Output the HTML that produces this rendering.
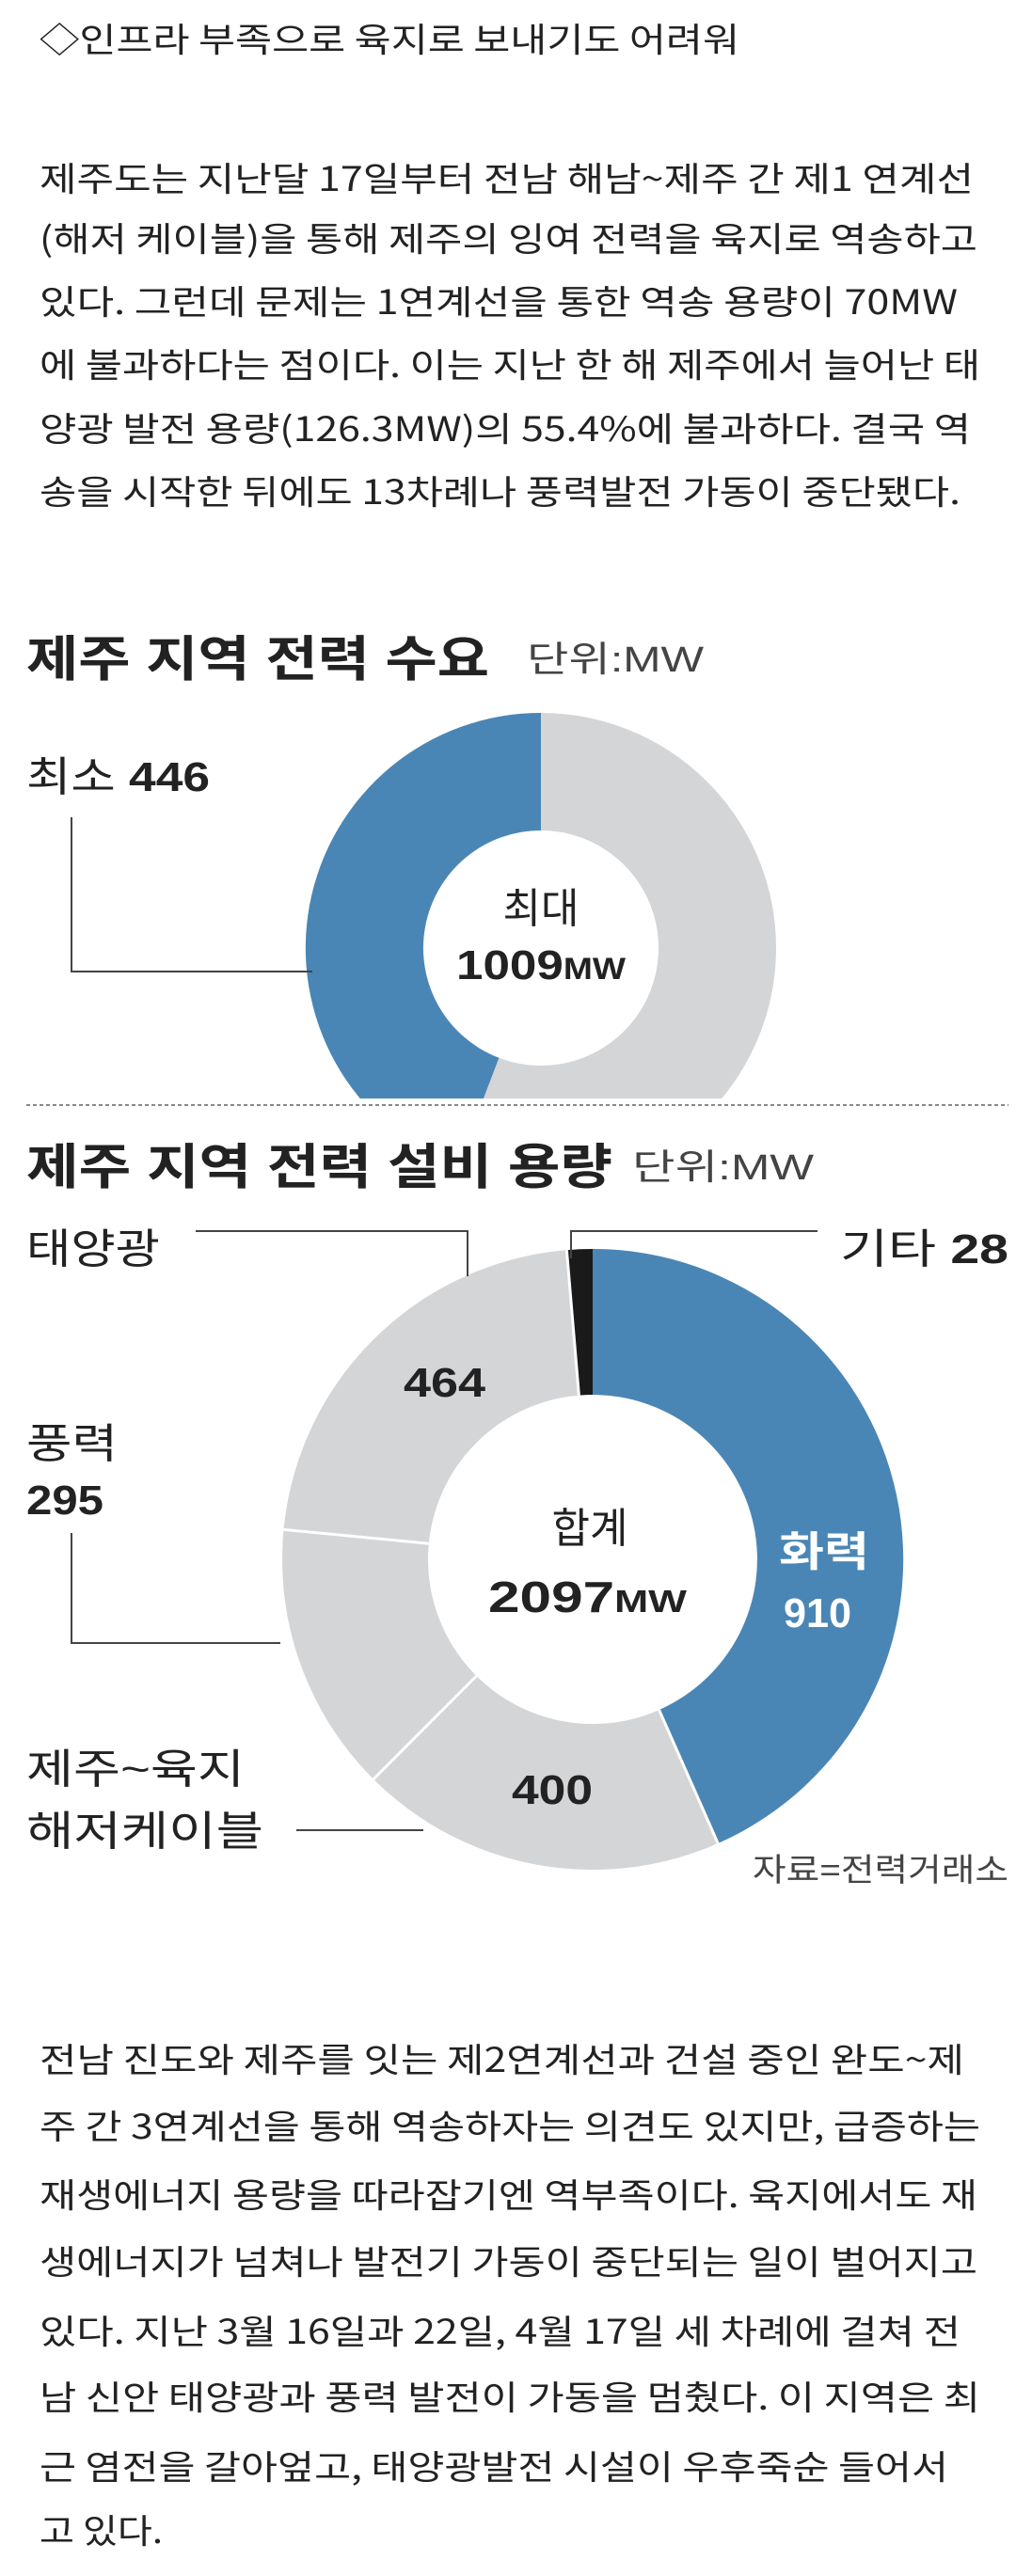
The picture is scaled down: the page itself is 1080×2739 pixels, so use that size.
<!DOCTYPE html>
<html><head><meta charset="utf-8"><style>
html,body{margin:0;padding:0;background:#fff;}
body{width:1080px;height:2739px;position:relative;overflow:hidden;font-family:"Liberation Sans","Noto Sans CJK KR",sans-serif;color:#222;}
svg{position:absolute;left:0;top:0;}
</style></head><body>
<svg width="1080" height="2739" viewBox="0 0 1080 2739" font-family="Liberation Sans, Noto Sans CJK KR, sans-serif">
<g font-size="36" fill="#222" font-family="Noto Sans CJK KR, sans-serif" lengthAdjust="spacingAndGlyphs">
<text x="42" y="55" textLength="744" lengthAdjust="spacingAndGlyphs">◇인프라 부족으로 육지로 보내기도 어려워</text>
<text x="42" y="203" textLength="993" lengthAdjust="spacingAndGlyphs">제주도는 지난달 17일부터 전남 해남~제주 간 제1 연계선</text>
<text x="42" y="267" textLength="997" lengthAdjust="spacingAndGlyphs">(해저 케이블)을 통해 제주의 잉여 전력을 육지로 역송하고</text>
<text x="42" y="334" textLength="976" lengthAdjust="spacingAndGlyphs">있다. 그런데 문제는 1연계선을 통한 역송 용량이 70MW</text>
<text x="42" y="401" textLength="1000" lengthAdjust="spacingAndGlyphs">에 불과하다는 점이다. 이는 지난 한 해 제주에서 늘어난 태</text>
<text x="42" y="469" textLength="990" lengthAdjust="spacingAndGlyphs">양광 발전 용량(126.3MW)의 55.4%에 불과하다. 결국 역</text>
<text x="42" y="536" textLength="979" lengthAdjust="spacingAndGlyphs">송을 시작한 뒤에도 13차례나 풍력발전 가동이 중단됐다.</text>

<text x="42" y="2203" textLength="983" lengthAdjust="spacingAndGlyphs">전남 진도와 제주를 잇는 제2연계선과 건설 중인 완도~제</text>
<text x="42" y="2274" textLength="1000" lengthAdjust="spacingAndGlyphs">주 간 3연계선을 통해 역송하자는 의견도 있지만, 급증하는</text>
<text x="42" y="2347" textLength="997" lengthAdjust="spacingAndGlyphs">재생에너지 용량을 따라잡기엔 역부족이다. 육지에서도 재</text>
<text x="42" y="2418" textLength="997" lengthAdjust="spacingAndGlyphs">생에너지가 넘쳐나 발전기 가동이 중단되는 일이 벌어지고</text>
<text x="42" y="2492" textLength="979" lengthAdjust="spacingAndGlyphs">있다. 지난 3월 16일과 22일, 4월 17일 세 차례에 걸쳐 전</text>
<text x="42" y="2562" textLength="1000" lengthAdjust="spacingAndGlyphs">남 신안 태양광과 풍력 발전이 가동을 멈췄다. 이 지역은 최</text>
<text x="42" y="2636" textLength="966" lengthAdjust="spacingAndGlyphs">근 염전을 갈아엎고, 태양광발전 시설이 우후죽순 들어서</text>
<text x="42" y="2704" textLength="131" lengthAdjust="spacingAndGlyphs">고 있다.</text>
</g>
<defs><clipPath id="c1"><rect x="0" y="740" width="1080" height="428"/></clipPath></defs>
<!-- chart 1 -->
<text x="28" y="719" font-size="52" font-weight="bold" fill="#222" textLength="492" lengthAdjust="spacingAndGlyphs">제주 지역 전력 수요</text>
<text x="560" y="714" font-size="38" fill="#444" textLength="188" lengthAdjust="spacingAndGlyphs">단위:MW</text>
<g clip-path="url(#c1)">
<circle cx="575" cy="1008" r="187.5" fill="none" stroke="#d4d5d7" stroke-width="125"/>
<path d="M575,758 A250,250 0 0 0 485.8,1241.6 L530.4,1124.8 A125,125 0 0 1 575,883 Z" fill="#4a86b5"/>
</g>
<text x="28" y="841" font-size="44" fill="#222" textLength="195" lengthAdjust="spacingAndGlyphs">최소 <tspan font-weight="bold">446</tspan></text>
<polyline points="76,869 76,1033 332,1033" fill="none" stroke="#444" stroke-width="2"/>
<text x="575" y="981" font-size="44" fill="#222" text-anchor="middle">최대</text>
<text x="485" y="1041" font-size="44" font-weight="bold" fill="#222" textLength="180" lengthAdjust="spacingAndGlyphs">1009<tspan font-size="32">MW</tspan></text>
<line x1="28" y1="1175" x2="1072" y2="1175" stroke="#888" stroke-width="2" stroke-dasharray="4 3"/>
<!-- chart 2 -->
<text x="28" y="1259" font-size="52" font-weight="bold" fill="#222" textLength="623" lengthAdjust="spacingAndGlyphs">제주 지역 전력 설비 용량</text>
<text x="672" y="1254" font-size="38" fill="#444" textLength="193" lengthAdjust="spacingAndGlyphs">단위:MW</text>
<circle cx="630" cy="1658" r="252.5" fill="none" stroke="#d4d5d7" stroke-width="155"/>
<path d="M630,1328 A330,330 0 0 1 763.2,1960 L700.6,1818.1 A175,175 0 0 0 630,1483 Z" fill="#4a86b5"/>
<path d="M602.4,1329.2 A330,330 0 0 1 630,1328 L630,1483 A175,175 0 0 0 615.4,1483.6 Z" fill="#1a1a1a"/>
<g stroke="#fff" stroke-width="3">
<line x1="506.5" y1="1782" x2="397.1" y2="1891.7"/>
<line x1="455.8" y1="1641.2" x2="301.5" y2="1626.4"/>
<line x1="615.4" y1="1483.6" x2="602.4" y2="1329.2"/>
<line x1="700.6" y1="1818.1" x2="763.2" y2="1960"/>
</g>
<g fill="none" stroke="#444" stroke-width="2">
<polyline points="208,1309 497,1309 497,1357"/>
<polyline points="607,1338 607,1309 869,1309"/>
<polyline points="76,1630 76,1747 298,1747"/>
<line x1="315" y1="1946" x2="450" y2="1946"/>
</g>
<text x="28" y="1343" font-size="44" fill="#222" textLength="142" lengthAdjust="spacingAndGlyphs">태양광</text>
<text x="893" y="1343" font-size="44" fill="#222" textLength="179" lengthAdjust="spacingAndGlyphs">기타 <tspan font-weight="bold">28</tspan></text>
<text x="429" y="1485" font-size="44" font-weight="bold" fill="#222" textLength="87" lengthAdjust="spacingAndGlyphs">464</text>
<text x="28" y="1550" font-size="44" fill="#222" textLength="97" lengthAdjust="spacingAndGlyphs">풍력</text>
<text x="28" y="1610" font-size="44" font-weight="bold" fill="#222" textLength="82" lengthAdjust="spacingAndGlyphs">295</text>
<text x="627" y="1640" font-size="44" fill="#222" text-anchor="middle">합계</text>
<text x="519" y="1714" font-size="46" font-weight="bold" fill="#222" textLength="211" lengthAdjust="spacingAndGlyphs">2097<tspan font-size="33">MW</tspan></text>
<text x="828" y="1665" font-size="44" font-weight="bold" fill="#fff" textLength="96" lengthAdjust="spacingAndGlyphs">화력</text>
<text x="833" y="1730" font-size="44" font-weight="bold" fill="#fff" textLength="72" lengthAdjust="spacingAndGlyphs">910</text>
<text x="544" y="1918" font-size="44" font-weight="bold" fill="#222" textLength="86" lengthAdjust="spacingAndGlyphs">400</text>
<text x="28" y="1896" font-size="44" fill="#222" textLength="232" lengthAdjust="spacingAndGlyphs">제주~육지</text>
<text x="28" y="1962" font-size="44" fill="#222" textLength="252" lengthAdjust="spacingAndGlyphs">해저케이블</text>
<text x="800" y="2000" font-size="34" fill="#444" textLength="272" lengthAdjust="spacingAndGlyphs">자료=전력거래소</text>
</svg>
</body></html>
